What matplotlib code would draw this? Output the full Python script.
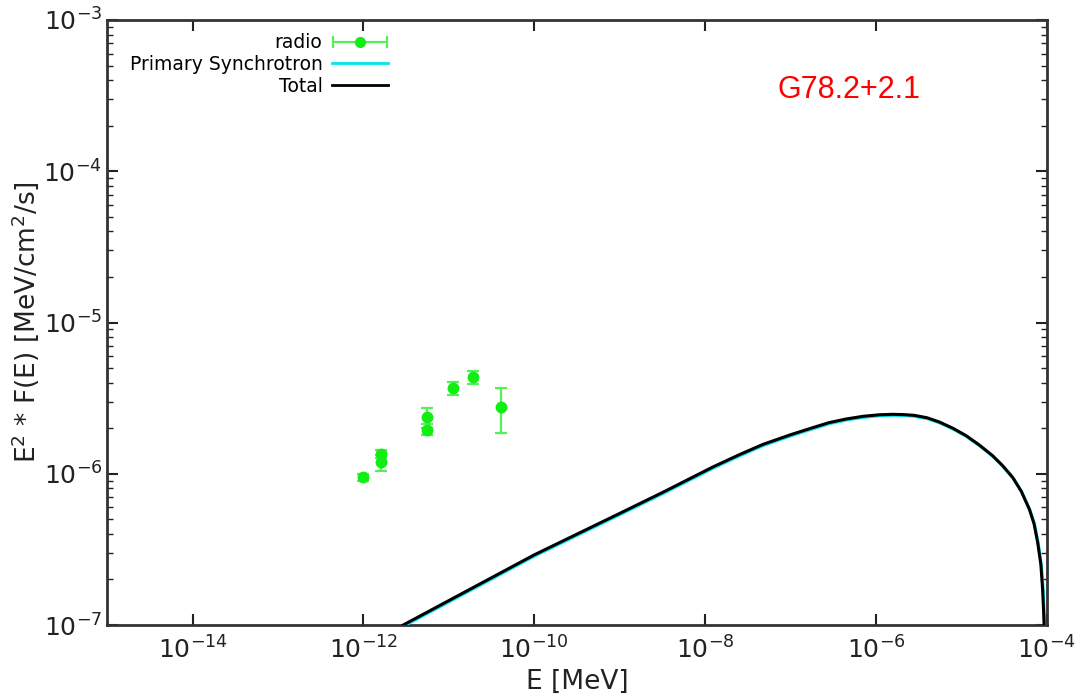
import matplotlib
matplotlib.use("Agg")
import matplotlib.pyplot as plt
import matplotlib.ticker as mticker
import matplotlib.transforms as mtransforms
from matplotlib.legend_handler import HandlerErrorbar
import numpy as np

# radio data points (E in MeV, E^2 F in MeV/cm^2/s)
radio_E = [1.0e-12, 1.6e-12, 1.6e-12, 5.6e-12, 5.6e-12, 1.12e-11, 1.92e-11, 4.1e-11]
radio_F = [9.5e-7, 1.36e-6, 1.19e-6, 2.36e-6, 1.96e-6, 3.67e-6, 4.35e-6, 2.78e-6]
radio_err = [0.05e-6, 0.08e-6, 0.14e-6, 0.35e-6, 0.16e-6, 0.37e-6, 0.40e-6, 0.93e-6]

# model curve (log10 values)
model_logE = [-11.534, -10.8, -10.0, -9.0, -8.493, -7.909, -7.6, -7.324, -7.0, -6.739,
              -6.55, -6.35, -6.15, -5.959, -5.804, -5.67, -5.55, -5.40, -5.257, -5.10,
              -4.945, -4.79, -4.634, -4.52, -4.40, -4.30, -4.205, -4.15, -4.107, -4.07,
              -4.05, -4.04, -4.032]
model_logF = [-7.0, -6.778, -6.536, -6.262, -6.122, -5.955, -5.874, -5.806, -5.742, -5.695,
              -5.662, -5.638, -5.620, -5.610, -5.607, -5.609, -5.614, -5.630, -5.658, -5.699,
              -5.748, -5.810, -5.881, -5.945, -6.024, -6.115, -6.234, -6.33, -6.455, -6.60,
              -6.76, -6.88, -7.0]

xticks = [1e-14, 1e-12, 1e-10, 1e-8, 1e-6, 1e-4]
yticks = [1e-7, 1e-6, 1e-5, 1e-4, 1e-3]

fig = plt.figure(figsize=(10.82, 6.94), dpi=100)
ax = fig.add_axes([0.099, 0.0994, 0.8685, 0.8718])

E = 10 ** np.array(model_logE)
F = 10 ** np.array(model_logF)

green = '#11ee11'
bar_green = '#55f055'

# primary synchrotron (cyan) slightly offset under the total
shift = mtransforms.offset_copy(ax.transData, fig=fig, x=0.6, y=-1.0, units='dots')
ax.plot(E, F, color='#00e5ee', lw=2.2, transform=shift, zorder=3,
        solid_joinstyle='round')
ax.plot(E, F, color='black', lw=2.2, zorder=4, solid_joinstyle='round')

ax.errorbar(radio_E, radio_F, yerr=radio_err, fmt='o', color=green, ms=7.5,
            ecolor=bar_green, elinewidth=1.6, capsize=4.5, capthick=1.6, zorder=5)

# legend handles (gnuplot style: horizontal bar for the points)
h_radio = ax.errorbar([np.nan], [np.nan], xerr=[1], fmt='o', color=green, ms=7,
                      ecolor=bar_green, elinewidth=1.6, capsize=4, capthick=1.6)
h_syn, = ax.plot([], [], color='#00e5ee', lw=2)
h_tot, = ax.plot([], [], color='black', lw=2)
leg = ax.legend([h_radio, h_syn, h_tot], ['radio', 'Primary Synchrotron', 'Total'],
                loc='upper right', bbox_to_anchor=(0.313, 1.0), frameon=False,
                markerfirst=False, fontsize=13.5, handlelength=3.0, handletextpad=0.5,
                labelspacing=0.15, borderpad=0.2,
                handler_map={h_radio: HandlerErrorbar(xerr_size=1.45)})

ax.text(0.79, 0.884, 'G78.2+2.1', transform=ax.transAxes, color='red',
        fontsize=22, family='Liberation Sans', ha='center', va='center')

ax.set_xscale('log')
ax.set_yscale('log')
ax.set_xlim(1e-15, 1e-4)
ax.set_ylim(1e-7, 1e-3)
ax.set_xticks(xticks)
ax.xaxis.set_minor_locator(mticker.NullLocator())
ax.set_yticks(yticks)
ax.yaxis.set_minor_locator(mticker.LogLocator(base=10, subs=np.arange(2, 10)))
ax.yaxis.set_minor_formatter(mticker.NullFormatter())

ax.tick_params(which='both', direction='in', top=True, right=True, colors='#222222',
               labelsize=18)
ax.tick_params(which='major', length=8, width=1.5)
ax.tick_params(which='minor', length=4, width=1.0)
ax.tick_params(axis='x', pad=8)
for s in ax.spines.values():
    s.set_linewidth(2)
    s.set_color('#333333')

ax.set_xlabel('E [MeV]', fontsize=19, labelpad=4, color='#222222')
ax.set_ylabel(r'E$^2$ * F(E) [MeV/cm$^2$/s]', fontsize=19, labelpad=2, color='#222222')

fig.savefig('out.png', dpi=100)
